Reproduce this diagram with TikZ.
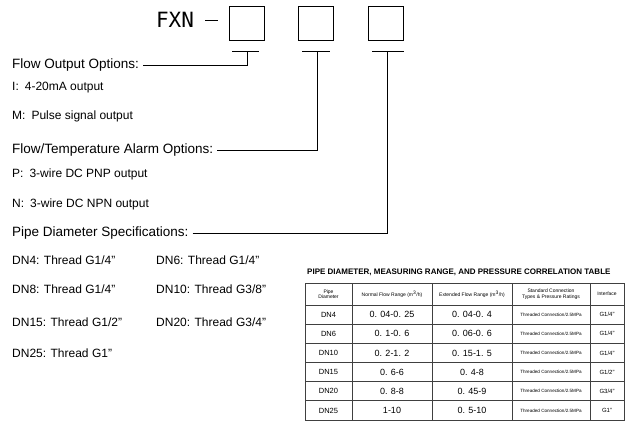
\documentclass[tikz,border=0pt]{standalone}
\usepackage{fontspec}
\setmainfont{Liberation Sans}
\newfontfamily\monof{DejaVu Sans Mono}
\begin{document}
\begin{tikzpicture}[x=1pt,y=-1pt,
 lab/.style={anchor=west,inner sep=0pt,font=\fontsize{12}{12}\selectfont},
 head/.style={anchor=west,inner sep=0pt,font=\fontsize{13.5}{13.5}\selectfont},
 sq/.style={draw,line width=0.8pt,minimum width=35pt,minimum height=34pt,inner sep=0pt},
 ln/.style={line width=0.7pt},
 cell/.style={inner sep=0pt,font=\fontsize{9}{9}\selectfont},
 tiny/.style={inner sep=0pt,font=\fontsize{5}{5.5}\selectfont,align=center},
 tline/.style={line width=0.8pt,black!75}]
\useasboundingbox (0,0) rectangle (640,431);
\node[inner sep=0pt,font=\fontsize{21}{21}\selectfont\monof] (fxn) at (175,20) {FXN};
\coordinate (d1) at (205,20); \coordinate (d2) at (218,20);
\draw[ln] (d1)--(d2);
\node[sq] (b1) at (246.5,23) {};
\node[sq] (b2) at (316,23) {};
\node[sq] (b3) at (386,23) {};
\coordinate (u1a) at (232,51); \coordinate (u1b) at (259,51);
\coordinate (u2a) at (302,51); \coordinate (u2b) at (330,51);
\coordinate (u3a) at (372,51); \coordinate (u3b) at (404,51);
\draw[ln] (u1a)--(u1b); \draw[ln] (u2a)--(u2b); \draw[ln] (u3a)--(u3b);
\node[head] (h1) at (12,65) {Flow Output Options:};
\node[lab] (i) at (12,88) {I:\enspace 4-20mA output};
\node[lab] (m) at (12,116) {M:\enspace Pulse signal output};
\node[head] (h2) at (12,150) {Flow/Temperature Alarm Options:};
\node[lab] (p) at (12,174) {P:\enspace 3-wire DC PNP output};
\node[lab] (n) at (12,204) {N:\enspace 3-wire DC NPN output};
\node[head] (h3) at (12,233) {Pipe Diameter Specifications:};
\node[lab] at (12,260) {DN4: Thread G1/4''};
\node[lab] at (156,260) {DN6: Thread G1/4''};
\node[lab] at (12,289) {DN8: Thread G1/4''};
\node[lab] at (156,289) {DN10: Thread G3/8''};
\node[lab] at (12,322) {DN15: Thread G1/2''};
\node[lab] at (156,322) {DN20: Thread G3/4''};
\node[lab] at (12,353) {DN25: Thread G1''};
\draw[ln] ([xshift=4pt]h1.east) -| (247,51);
\draw[ln] ([xshift=4pt]h2.east) -| (317,51);
\draw[ln] ([xshift=4pt]h3.east) -| (387,51);
% table
\node[anchor=west,inner sep=0pt,font=\fontsize{8}{8}\selectfont\bfseries] (tt) at (307,272) {PIPE DIAMETER, MEASURING RANGE, AND PRESSURE CORRELATION TABLE};
\draw[tline] (305,283) rectangle (624,420);
\foreach \x in {352,432,512,590} \draw[tline] (\x,283)--(\x,420);
\foreach \i in {0,...,5} \draw[tline] (305,{305+\i*19.17})--(624,{305+\i*19.17});
\node[tiny] at (328.5,294) {Pipe\\Diameter};
\node[tiny] at (392,294) {Normal Flow Range (m\textsuperscript{3}/h)};
\node[tiny] at (472,294) {Extended Flow Range (m\textsuperscript{3}/h)};
\node[tiny] at (551,294) {Standard Connection\\Types \& Pressure Ratings};
\node[tiny] at (607,294) {Interface};
\foreach \a/\b/\c/\d [count=\k from 0] in {DN4/{0. 04-0. 25}/{0. 04-0. 4}/{G1/4''},DN6/{0. 1-0. 6}/{0. 06-0. 6}/{G1/4''},DN10/{0. 2-1. 2}/{0. 15-1. 5}/{G1/4''},DN15/{0. 6-6}/{0. 4-8}/{G1/2''},DN20/{0. 8-8}/{0. 45-9}/{G3/4''},DN25/{1-10}/{0. 5-10}/{G1''}}{
 \node[cell,font=\fontsize{7.5}{8}\selectfont] at (328.5,{314.6+\k*19.17}) {\a};
 \node[cell] at (392,{314.6+\k*19.17}) {\b};
 \node[cell] at (472,{314.6+\k*19.17}) {\c};
 \node[tiny,font=\fontsize{4.6}{5}\selectfont] at (551,{314.6+\k*19.17}) {Threaded Connection/2.5MPa};
 \node[cell,font=\fontsize{6}{6}\selectfont] at (607,{314.6+\k*19.17}) {\d};
}
\end{tikzpicture}
\end{document}
